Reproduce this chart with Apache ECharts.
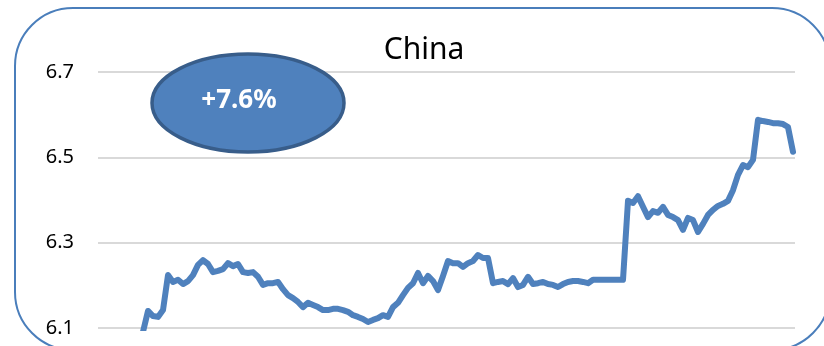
<!DOCTYPE html>
<html>
<head>
<meta charset="utf-8">
<script src="https://cdn.jsdelivr.net/npm/echarts@6/dist/echarts.min.js"></script>
<style>
html, body { margin: 0; padding: 0; background: #fff; }
#myChart { width: 824px; height: 346px; }
</style>
</head>
<body>
<div id="myChart"></div>
<script>
// 标题和标注
const chartTitle = 'China'
const changeLabel = '+7.6%'

// y 轴刻度
const yTicks = [6.1, 6.3, 6.5, 6.7]

// 汇率
const rateValues = [
  6.091, 6.140, 6.128, 6.126, 6.142, 6.224, 6.208, 6.213, 6.203, 6.210,
  6.224, 6.248, 6.259, 6.250, 6.231, 6.234, 6.238, 6.252, 6.245, 6.250,
  6.231, 6.229, 6.231, 6.220, 6.201, 6.205, 6.205, 6.208, 6.191, 6.177,
  6.170, 6.161, 6.149, 6.159, 6.154, 6.149, 6.142, 6.142, 6.145, 6.145,
  6.142, 6.138, 6.130, 6.126, 6.121, 6.114, 6.119, 6.123, 6.130, 6.126,
  6.149, 6.159, 6.177, 6.194, 6.205, 6.229, 6.205, 6.222, 6.210, 6.189,
  6.222, 6.257, 6.252, 6.252, 6.243, 6.252, 6.257, 6.271, 6.264, 6.264,
  6.205, 6.208, 6.210, 6.203, 6.217, 6.196, 6.201, 6.220, 6.203, 6.205,
  6.208, 6.203, 6.201, 6.196, 6.203, 6.208, 6.210, 6.210, 6.208, 6.205,
  6.213, 6.213, 6.213, 6.213, 6.213, 6.213, 6.213,
  6.398, 6.393, 6.409, 6.384, 6.360, 6.374, 6.370, 6.384, 6.365, 6.360,
  6.353, 6.330, 6.358, 6.353, 6.325, 6.344, 6.365, 6.377, 6.386, 6.391,
  6.398, 6.423, 6.459, 6.482, 6.477, 6.494, 6.588, 6.585, 6.583, 6.580,
  6.580, 6.578, 6.571, 6.513
]
const dayIndex = rateValues.map((v, i) => String(i))

const myChart = echarts.init(document.getElementById('myChart'))

const yMin = yTicks[0]
const yMax = yTicks[yTicks.length - 1]

myChart.setOption({
  animation: false,
  grid: [
    { left: 98, right: 29, top: 72, bottom: 18 },
    { left: 143, right: 31, top: 72, bottom: 18 }
  ],
  xAxis: [
    { gridIndex: 0, type: 'value', min: 0, max: 1, show: false },
    { gridIndex: 1, type: 'category', data: dayIndex, boundaryGap: false, show: false }
  ],
  yAxis: [
    {
      gridIndex: 0,
      type: 'value',
      min: yMin,
      max: yMax,
      interval: 0.2,
      axisLine: { show: false },
      axisTick: { show: false },
      axisLabel: {
        margin: 24,
        color: '#000',
        fontSize: 20,
        fontFamily: 'Noto Sans',
        formatter: v => v.toFixed(1)
      },
      splitLine: { lineStyle: { color: '#d9d9d9', width: 2 } }
    },
    { gridIndex: 1, type: 'value', min: yMin, max: yMax, show: false }
  ],
  series: [
    {
      type: 'line',
      xAxisIndex: 1,
      yAxisIndex: 1,
      data: rateValues,
      showSymbol: false,
      clip: true,
      lineStyle: { color: '#4f81bd', width: 6, join: 'round', cap: 'round' }
    }
  ],
  graphic: [
    {
      type: 'rect',
      shape: { x: 15, y: 8, width: 815, height: 342, r: 58 },
      style: { fill: 'none', stroke: '#4a7ebb', lineWidth: 2 },
      silent: true,
      z: 100
    },
    {
      type: 'text',
      x: 424,
      y: 50,
      style: {
        text: chartTitle,
        font: '30px "Noto Sans"',
        fill: '#000',
        align: 'center',
        verticalAlign: 'middle'
      }
    },
    {
      type: 'ellipse',
      shape: { cx: 248, cy: 103, rx: 96, ry: 49 },
      style: { fill: '#4f81bd', stroke: '#385d8a', lineWidth: 3.5 },
      z: 100
    },
    {
      type: 'text',
      x: 239,
      y: 101,
      style: {
        text: changeLabel,
        font: 'bold 26px "Noto Sans"',
        fill: '#fff',
        align: 'center',
        verticalAlign: 'middle'
      },
      z: 101
    }
  ]
})
</script>
</body>
</html>
